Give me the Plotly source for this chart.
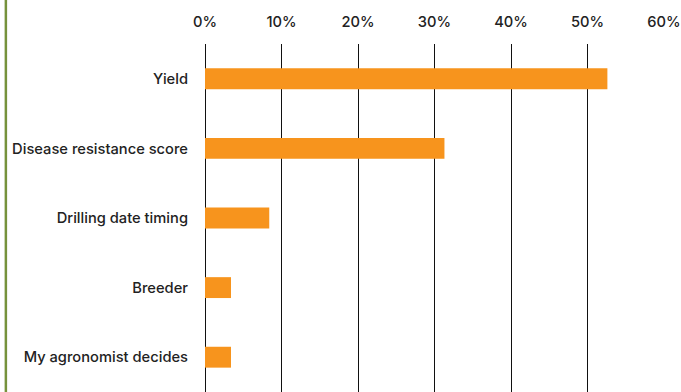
import plotly.graph_objects as go

categories = ["Yield", "Disease resistance score", "Drilling date timing", "Breeder", "My agronomist decides"]
shares = [52.6, 31.3, 8.4, 3.4, 3.4]
tick_values = [0, 10, 20, 30, 40, 50, 60]
tick_labels = ["0%", "10%", "20%", "30%", "40%", "50%", "60%"]

W, H = 681, 392
left, right, top, bottom = 205, 15, 44, 0
plot_w = W - left - right

label_font = dict(family="Inter, Liberation Sans, Arial, sans-serif", size=14.7,
                  color="#222222", weight=500)

fig = go.Figure(go.Bar(
    y=categories, x=shares, orientation="h",
    marker=dict(color="#F7941D", line=dict(width=0)),
    width=0.3,
))

fig.update_layout(
    width=W, height=H,
    margin=dict(l=left, r=right, t=top, b=bottom),
    paper_bgcolor="white", plot_bgcolor="white",
    showlegend=False,
    font=label_font,
)

fig.update_xaxes(
    side="top", range=[0, 60], tickvals=tick_values, ticktext=tick_labels,
    showgrid=True, gridcolor="#111111", gridwidth=1,
    zeroline=True, zerolinecolor="#111111", zerolinewidth=1,
    showline=False, ticks="", ticklabelstandoff=13,
    ticklabeloverflow="allow",
    tickfont=label_font,
)
fig.update_yaxes(
    categoryorder="array", categoryarray=categories, autorange="reversed",
    showgrid=False, zeroline=False, showline=False, ticks="",
    ticklabelstandoff=16,
    tickfont=label_font,
)

# olive rule down the left edge of the page
x_paper = (5 - left) / plot_w
fig.add_shape(type="line", xref="paper", yref="paper",
              x0=x_paper, x1=x_paper, y0=0, y1=H / (H - top - bottom),
              line=dict(color="#76923C", width=2.5))

fig.write_html("out.html")
